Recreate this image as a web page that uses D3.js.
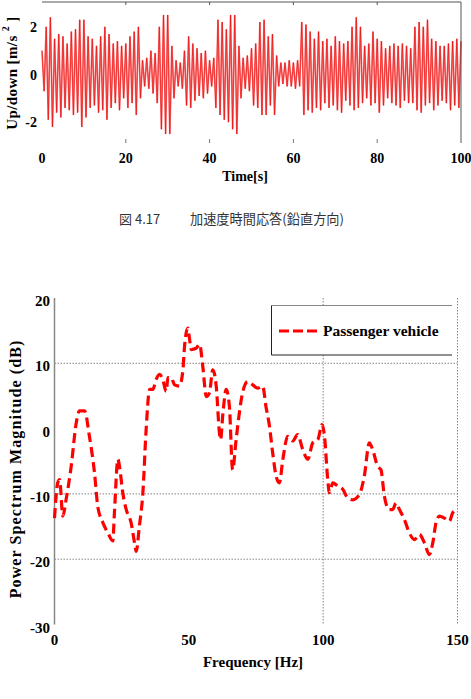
<!DOCTYPE html>
<html><head><meta charset="utf-8">
<script src="https://cdn.jsdelivr.net/npm/d3@7"></script>
<style>
body{margin:0;background:#fff;}
svg{display:block;}
.bold{font-family:"Liberation Serif","Times New Roman",serif;font-weight:bold;fill:#000;}
</style></head>
<body>
<svg id="c" width="471" height="699"></svg>
<script>
// ---------- Top chart data: acceleration peaks every 0.5 s ----------
const accelTimeStep = 0.5;
const accelPeaks = [
 1.0,-0.7,2.0,-1.9,2.4,-2.2,1.5,-1.6,1.7,-1.8,1.6,-1.4,1.3,-1.5,1.8,-1.7,1.9,-1.6,2.3,-2.2,
 2.3,-1.8,1.6,-1.4,1.5,-1.3,1.2,-1.6,1.6,-1.5,2.0,-1.9,1.7,-1.4,1.3,-1.2,1.4,-1.5,1.2,-1.0,
 1.3,-1.4,1.6,-1.2,1.8,-1.7,2.0,-1.0,0.6,-0.5,0.7,-0.6,1.0,-0.8,0.9,-1.2,2.0,-2.3,2.5,-2.5,
 2.5,-2.5,1.2,-1.0,0.6,-0.5,0.5,-0.6,1.0,-1.3,1.6,-1.4,1.3,-1.1,1.1,-0.9,0.9,-1.0,1.0,-0.8,
 0.6,-0.5,0.7,-1.4,2.3,-1.7,2.2,-1.9,1.9,-2.0,2.5,-2.3,2.5,-2.5,1.2,-1.0,0.7,-0.6,0.8,-0.7,
 1.1,-1.3,1.3,-1.4,2.2,-1.7,2.3,-1.7,1.6,-1.3,1.7,-1.7,0.8,-0.5,0.5,-0.4,0.5,-0.5,0.6,-0.5,
 0.5,-0.6,0.6,-0.5,2.2,-1.7,2.1,-1.5,1.8,-1.6,1.5,-1.4,1.8,-1.5,1.4,-1.2,1.5,-1.4,1.2,-1.3,
 1.6,-1.5,1.4,-1.6,1.3,-1.1,1.4,-1.3,2.0,-1.5,2.4,-1.4,2.0,-1.2,1.2,-1.0,1.3,-1.3,1.8,-1.2,
 1.5,-1.6,1.4,-1.3,1.1,-1.0,1.2,-1.2,1.3,-1.3,1.2,-1.4,1.3,-1.1,1.2,-1.2,1.1,-1.2,2.0,-1.5,
 2.2,-1.6,2.0,-1.3,2.3,-1.2,1.5,-1.5,1.4,-1.3,1.2,-1.1,1.2,-1.2,1.3,-1.5,1.4,-1.3,1.5,-1.4,
 1.4
];
const timeTicks = [0,20,40,60,80,100];
const accelTicks = [-2,0,2];

// ---------- Bottom chart data: power spectrum ----------
const freqHz = [0,1.2,1.9,3.1,4.3,6.2,8.1,9.3,11.2,13,14.9,16.1,18,19.9,21.7,22.3,23.6,24.2,25.4,26.7,
 28.5,29.8,30.4,31.6,32.9,34.1,35.4,36.6,37.8,39.1,40.3,41.6,42.2,43.4,44.7,46.5,47.8,48.4,49.6,50.2,
 50.9,52.7,54,55.2,56.5,57.7,58.9,60.2,61.4,61.8,62.7,63.9,65.1,66.3,67.6,68.8,70,71.9,73.8,75.6,
 77.5,78.7,80,81.2,82.5,83.7,85,86.8,88.7,90.5,92.4,94.3,96.1,98,99.6,100.5,101.7,102.3,103.6,105.4,
 107.3,109.1,111,113.5,115.3,117.2,118.4,120.3,121.5,122.8,124.6,125.9,127.1,128.4,130.2,132.1,134,135.8,137.7,139.5,
 140.8,142,143.3,145.1,147,148.2,149.8];
const psdDb = [-13.7,-8.3,-7.8,-13.4,-10.9,-5.8,0.9,2.7,2.7,-1.2,-6.8,-11.9,-14.4,-16,-17.2,-12.9,-4.7,-5.8,-9.8,-12.4,
 -14.4,-17.5,-18.8,-14.9,-9.8,-0.2,6,6,7.5,8.3,7.5,5.7,7.8,7.8,6.7,6.5,9,12.6,15.4,13.9,
 12.1,12.3,12.9,9.5,4.9,5.5,9,6.5,-0.7,-1.7,2.4,6,3.4,-6.3,-1.7,2.4,5.5,7.2,6.7,6.2,
 6.5,3.4,0.4,-3.7,-7.3,-8.3,-4.7,-1.2,-1.9,-0.9,-3.2,-4.7,-2.2,-1.7,0.6,-1.2,-7.8,-9.8,-8.3,-8.8,
 -9.3,-10.6,-10.9,-10.1,-7.3,-2.2,-3.2,-5.8,-6.3,-10.4,-12.4,-12.4,-11.4,-12.4,-13.9,-16,-17,-16.2,-17.5,-19.3,
 -17.5,-14.4,-13.4,-13.7,-14.2,-12.9,-12.4];
const freqTicks = [0,50,100,150];
const dbTicks = [-30,-20,-10,0,10,20];
const dbGrid = [-20,-10,10];
const freqGrid = [100,150];
const seriesName = "Passenger vehicle";

const svg = d3.select("#c");

// ================= TOP CHART =================
const tx = d3.scaleLinear().domain([0,100]).range([42,461]);
const ty = d3.scaleLinear().domain([-3,3]).range([146,3]);
const gTop = svg.append("g");

const accelData = accelPeaks.map((v,i)=>({t:i*accelTimeStep, v}));
gTop.append("path").datum(accelData)
  .attr("d", d3.line().x(d=>tx(d.t)).y(d=>ty(d.v)))
  .attr("fill","none").attr("stroke","#ff5050").attr("stroke-width",1.7).attr("stroke-opacity",0.8);
gTop.append("path").datum(accelData)
  .attr("d", d3.line().x(d=>tx(d.t)).y(d=>ty(d.v)))
  .attr("fill","none").attr("stroke","#e00000").attr("stroke-width",0.6).attr("stroke-opacity",0.9);

// frame: top and right
gTop.append("line").attr("x1",tx(0)).attr("x2",tx(100)).attr("y1",2).attr("y2",2).attr("stroke","#555").attr("stroke-width",1);
gTop.append("line").attr("x1",tx(100)).attr("x2",tx(100)).attr("y1",2).attr("y2",143).attr("stroke","#555").attr("stroke-width",1);
// ticks
timeTicks.filter(t=>t>0&&t<100).forEach(t=>{
  gTop.append("line").attr("x1",tx(t)).attr("x2",tx(t)).attr("y1",2).attr("y2",5).attr("stroke","#555");
  gTop.append("line").attr("x1",tx(t)).attr("x2",tx(t)).attr("y1",139).attr("y2",143).attr("stroke","#777");
});
gTop.selectAll(".xt").data(timeTicks).enter().append("text").attr("class","bold")
  .attr("x",d=>tx(d)).attr("y",163).attr("text-anchor","middle").attr("font-size",14).text(d=>d);
gTop.selectAll(".yt").data(accelTicks).enter().append("text").attr("class","bold")
  .attr("x",37).attr("y",d=>ty(d)+5).attr("text-anchor","end").attr("font-size",14).text(d=>d);
gTop.append("text").attr("class","bold").attr("x",245).attr("y",181).attr("text-anchor","middle")
  .attr("font-size",14).text("Time[s]");
const yl = gTop.append("text").attr("class","bold").attr("font-size",15).attr("letter-spacing",0.4)
  .attr("transform","translate(17,73) rotate(-90)").attr("text-anchor","middle");
yl.append("tspan").text("Up/down  [m/s  ");
yl.append("tspan").attr("font-size",10).attr("dy",-8).text("2");
yl.append("tspan").attr("dy",8).text("  ]");

// caption
svg.append("text").attr("x",119).attr("y",224).attr("font-family","'Noto Sans CJK JP',sans-serif")
  .attr("font-size",13).attr("fill","#333").text("図 4.17");
svg.append("text").attr("x",190).attr("y",224).attr("font-family","'Noto Sans CJK JP',sans-serif")
  .attr("font-size",13.2).attr("fill","#333").text("加速度時間応答(鉛直方向)");

// ================= BOTTOM CHART =================
const bx = d3.scaleLinear().domain([0,150]).range([54.5,457.5]);
const by = d3.scaleLinear().domain([-30,20]).range([624.5,298]);
const gBot = svg.append("g");

gBot.selectAll(".hg").data(dbGrid).enter().append("line")
  .attr("x1",bx(0)).attr("x2",bx(150)).attr("y1",d=>by(d)).attr("y2",d=>by(d))
  .attr("stroke","#666").attr("stroke-width",0.8).attr("stroke-dasharray","1.5,1.5");
gBot.selectAll(".vg").data(freqGrid).enter().append("line")
  .attr("x1",d=>bx(d)).attr("x2",d=>bx(d)).attr("y1",by(20)).attr("y2",by(-30))
  .attr("stroke","#666").attr("stroke-width",0.8).attr("stroke-dasharray","1.5,1.5");
gBot.append("line").attr("x1",bx(0)).attr("x2",bx(0)).attr("y1",by(20)).attr("y2",by(-30))
  .attr("stroke","#888").attr("stroke-width",1.5);

const psdData = freqHz.map((f,i)=>({f, v:psdDb[i]}));
gBot.append("path").datum(psdData)
  .attr("d", d3.line().curve(d3.curveMonotoneX).x(d=>bx(d.f)).y(d=>by(d.v)))
  .attr("fill","none").attr("stroke","#ff0000").attr("stroke-width",3.2)
  .attr("stroke-dasharray","10,5");

gBot.selectAll(".bxt").data(freqTicks).enter().append("text").attr("class","bold")
  .attr("x",d=>bx(d)).attr("y",645).attr("text-anchor","middle").attr("font-size",15).text(d=>d);
gBot.selectAll(".byt").data(dbTicks).enter().append("text").attr("class","bold")
  .attr("x",50).attr("y",d=>by(d)+8).attr("text-anchor","end").attr("font-size",15).text(d=>d);
gBot.append("text").attr("class","bold").attr("x",253).attr("y",667).attr("text-anchor","middle")
  .attr("font-size",15).text("Frequency [Hz]");
gBot.append("text").attr("class","bold").attr("font-size",16).attr("letter-spacing",1.1).attr("text-anchor","middle")
  .attr("transform","translate(21,469) rotate(-90)").text("Power Spectrum Magnitude (dB)");

// legend
const lg = gBot.append("g");
lg.append("rect").attr("x",271.5).attr("y",305.5).attr("width",181).attr("height",49.5).attr("fill","#fff");
lg.append("line").attr("x1",271.5).attr("x2",452).attr("y1",305.5).attr("y2",305.5).attr("stroke","#888").attr("stroke-width",1.2);
lg.append("line").attr("x1",271.5).attr("x2",271.5).attr("y1",305.5).attr("y2",355).attr("stroke","#222").attr("stroke-width",1);
lg.append("line").attr("x1",271.5).attr("x2",452).attr("y1",355).attr("y2",355).attr("stroke","#222").attr("stroke-width",1);
lg.append("line").attr("x1",279).attr("x2",320).attr("y1",331).attr("y2",331)
  .attr("stroke","#ff0000").attr("stroke-width",3.2).attr("stroke-dasharray","10,4");
lg.append("text").attr("class","bold").attr("x",323).attr("y",336).attr("font-size",15.5).text(seriesName);
</script>
</body></html>
